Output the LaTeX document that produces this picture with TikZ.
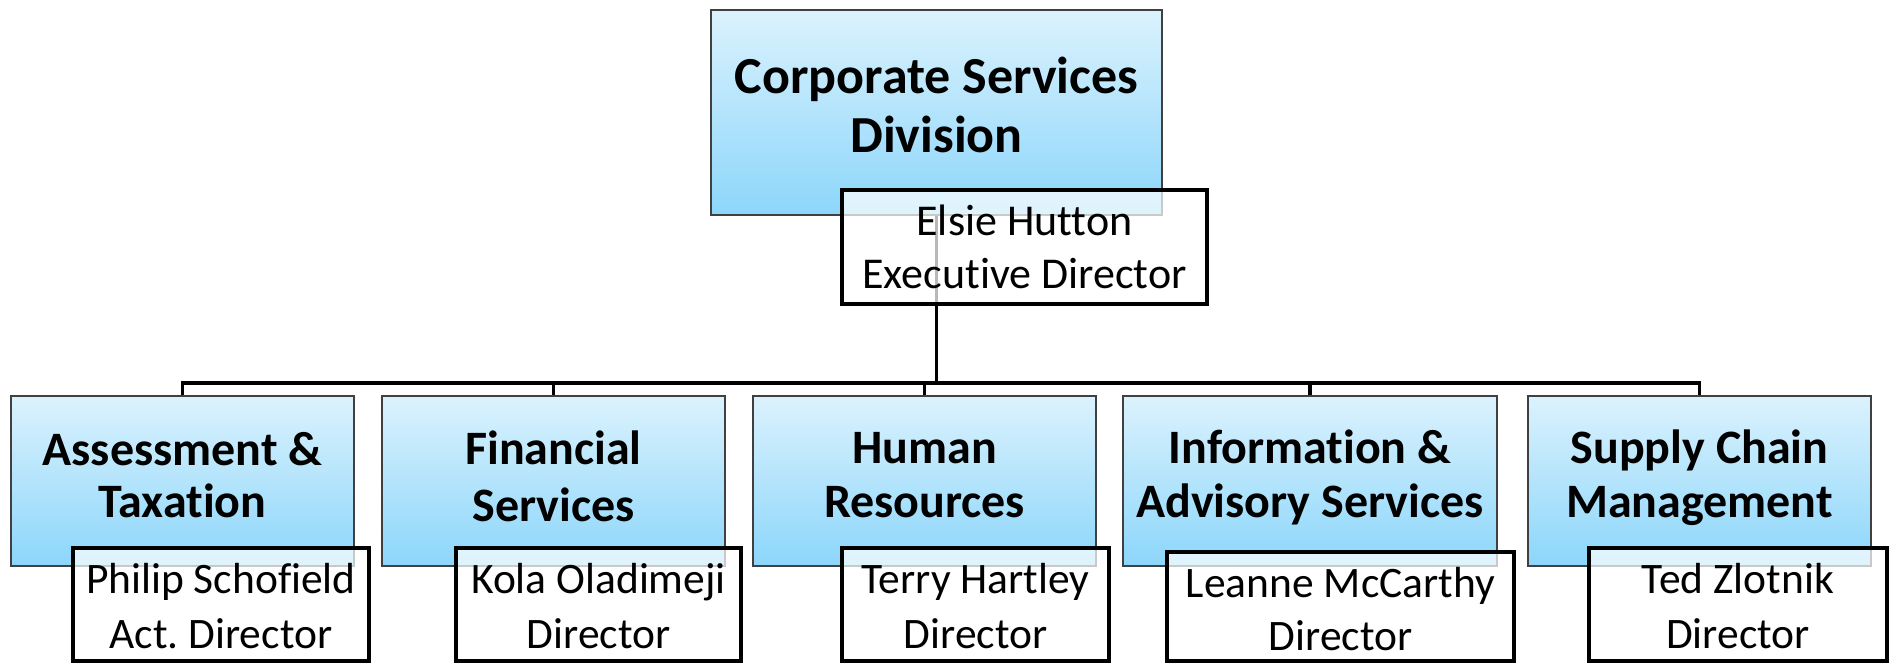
\documentclass[tikz,border=0pt]{standalone}
\usepackage{fontspec}
\setmainfont{Carlito}[Ligatures=NoCommon]
\frenchspacing
\begin{document}
\begin{tikzpicture}[x=1pt,y=-1pt,
  unitbox/.style={rectangle, draw=black!75, line width=1.5pt, inner sep=0pt,
    top color=boxtop, bottom color=boxbottom},
  personbox/.style={rectangle, draw=black, line width=4pt, inner sep=0pt,
    fill=white, fill opacity=0.72, draw opacity=1, text opacity=1},
  link/.style={draw=black, line width=3.8pt},
  headtext/.style={anchor=base, inner sep=0pt, font=\fontsize{52}{62}\selectfont\bfseries},
  unittext/.style={anchor=base, inner sep=0pt, font=\fontsize{48}{58}\selectfont\bfseries},
  nametext/.style={anchor=base, inner sep=0pt, font=\fontsize{43.5}{53}\selectfont},
  headname/.style={anchor=base, inner sep=0pt, font=\fontsize{44}{53}\selectfont}]
\definecolor{boxtop}{RGB}{219,242,253}
\definecolor{boxbottom}{RGB}{140,214,251}
\useasboundingbox (0,0) rectangle (1892,664);

% division box
\node[unitbox, minimum width=451pt, minimum height=205pt] (top) at (936.5,112.5) {};

% unit boxes
\node[unitbox, minimum width=343pt, minimum height=170pt] (u1) at (182.5,481) {};
\node[unitbox, minimum width=343pt, minimum height=170pt] (u2) at (553.5,481) {};
\node[unitbox, minimum width=343pt, minimum height=170pt] (u3) at (924.5,481) {};
\node[unitbox, minimum width=374pt, minimum height=170pt] (u4) at (1310,481) {};
\node[unitbox, minimum width=343pt, minimum height=170pt] (u5) at (1699.5,481) {};

% connectors
\coordinate (bus) at (936.5,383);
\draw[link] (top.south) -- (top.south |- bus);
\draw[link] (u1.north) -- (u1.north |- bus) -- (u5.north |- bus) -- (u5.north);
\draw[link] (u2.north) -- (u2.north |- bus);
\draw[link] (u3.north) -- (u3.north |- bus);
\draw[link] (u4.north) -- (u4.north |- bus);

% name boxes
\node[personbox, minimum width=365pt, minimum height=114pt] (p0) at (1024.5,247) {};
\node[personbox, minimum width=296pt, minimum height=113pt] (p1) at (221,604.5) {};
\node[personbox, minimum width=285pt, minimum height=113pt] (p2) at (598.5,604.5) {};
\node[personbox, minimum width=267pt, minimum height=113pt] (p3) at (975.5,604.5) {};
\node[personbox, minimum width=347pt, minimum height=109pt] (p4) at (1340.5,606.5) {};
\node[personbox, minimum width=298pt, minimum height=113pt] (p5) at (1738,604.5) {};

% unit titles
\node[headtext] (h0a) at (936.5,93) {Corporate Services};
\node[headtext] (h0b) at (936.5,152) {Division};
\node[unittext] (h1a) at (182.5,465) {Assessment \&};
\node[unittext] (h1b) at (182.5,517) {Taxation};
\node[unittext] (h2a) at (553.5,464) {Financial};
\node[unittext] (h2b) at (553.5,521) {Services};
\node[unittext] (h3a) at (924.5,463) {Human};
\node[unittext] (h3b) at (924.5,517) {Resources};
\node[unittext] (h4a) at (1310,463) {Information \&};
\node[unittext] (h4b) at (1310,517) {Advisory Services};
\node[unittext] (h5a) at (1699.5,463) {Supply Chain};
\node[unittext] (h5b) at (1699.5,517) {Management};

% names and roles
\node[headname] (n0a) at (1024.5,235) {Elsie Hutton};
\node[headname] (n0b) at (1024.5,288) {Executive Director};
\node[nametext] (n1a) at (221,593) {Philip Schofield};
\node[nametext] (n1b) at (221,648) {Act. Director};
\node[nametext] (n2a) at (598.5,593) {Kola Oladimeji};
\node[nametext] (n2b) at (598.5,648) {Director};
\node[nametext] (n3a) at (975.5,593) {Terry Hartley};
\node[nametext] (n3b) at (975.5,648) {Director};
\node[nametext] (n4a) at (1340.5,597) {Leanne McCarthy};
\node[nametext] (n4b) at (1340.5,650) {Director};
\node[nametext] (n5a) at (1738,593) {Ted Zlotnik};
\node[nametext] (n5b) at (1738,648) {Director};
\end{tikzpicture}
\end{document}
